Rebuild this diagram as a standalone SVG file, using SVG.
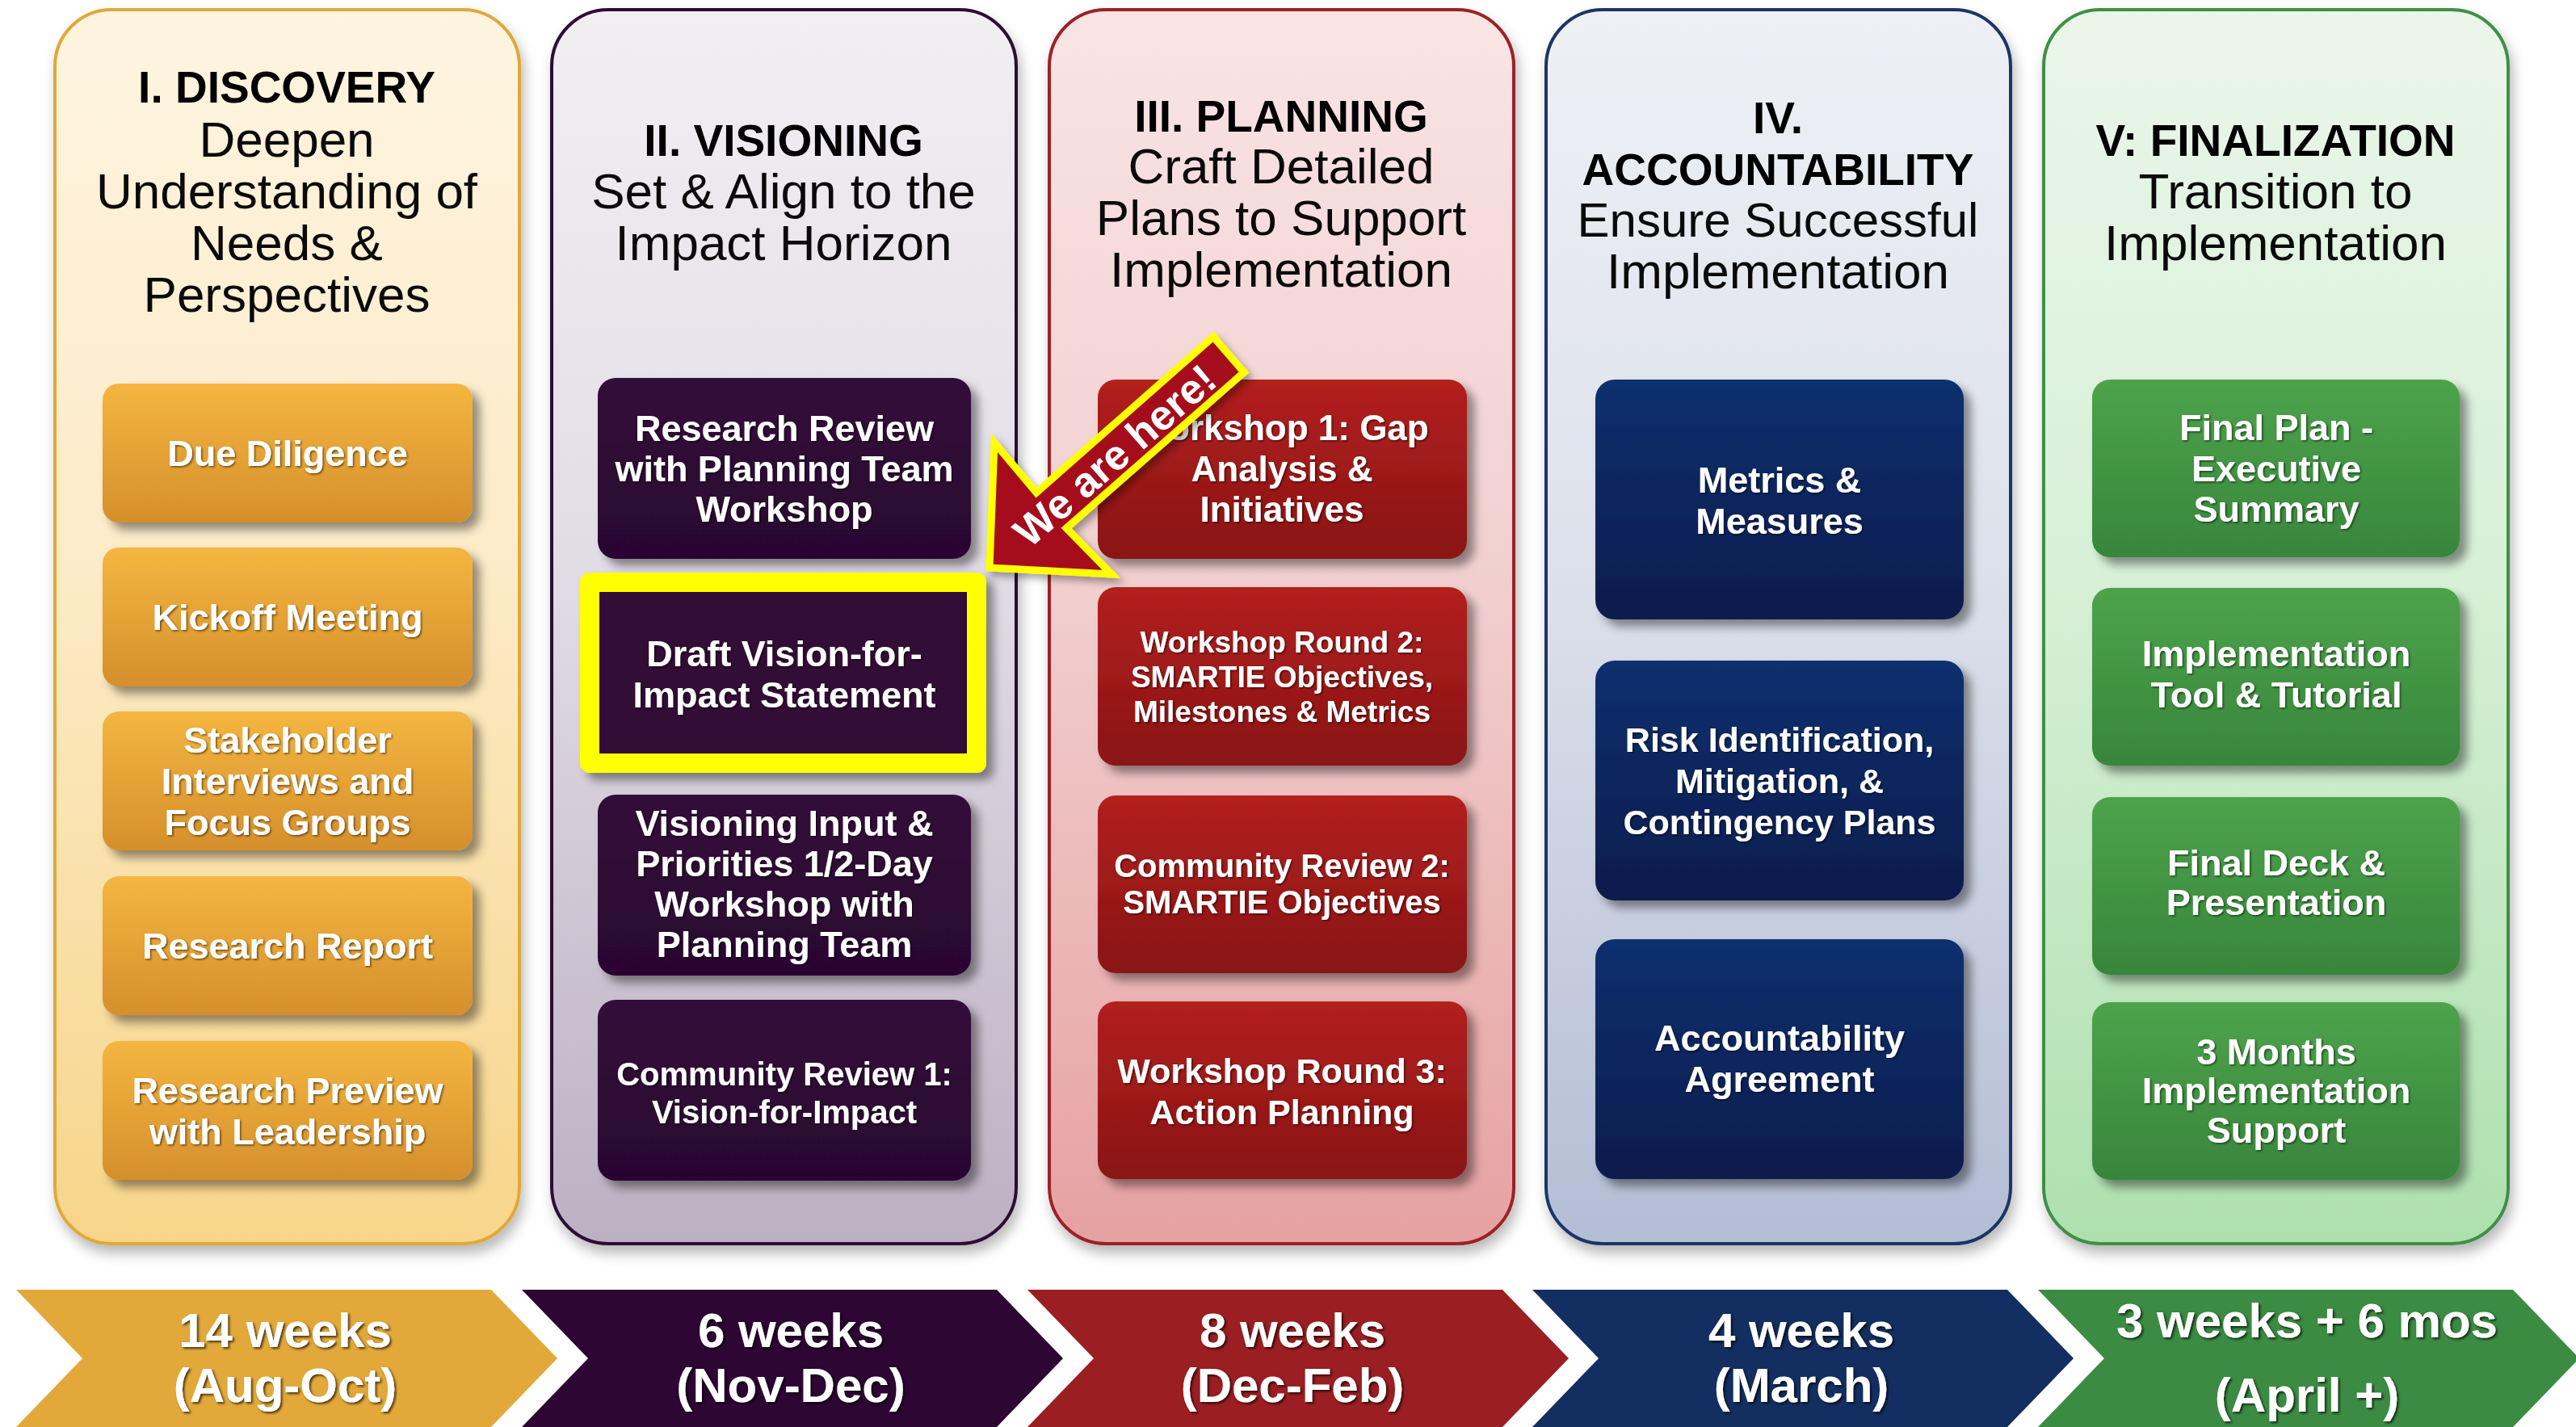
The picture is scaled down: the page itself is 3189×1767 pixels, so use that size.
<svg xmlns="http://www.w3.org/2000/svg" width="3189" height="1767" viewBox="0 0 3189 1767">
<defs>
<style>
.f{font-family:"Liberation Sans",Arial,sans-serif;text-anchor:middle}
.ht{font-weight:700;font-size:55px;fill:#000}
.hs{font-weight:400;font-size:62px;fill:#0a0a0a}
.bt{font-weight:700;font-size:45px;fill:#fff;filter:url(#tsh)}
.ct{font-weight:700;font-size:60px;fill:#fff;filter:url(#tsh2)}
.col{stroke-width:4;filter:url(#csh)}
.box{filter:url(#bsh)}
</style>
<filter id="csh" x="-10%" y="-5%" width="120%" height="112%"><feDropShadow dx="4" dy="10" stdDeviation="8" flood-color="#000" flood-opacity="0.28"/></filter>
<filter id="bsh" x="-10%" y="-10%" width="125%" height="135%"><feDropShadow dx="9" dy="9" stdDeviation="6" flood-color="#000" flood-opacity="0.42"/></filter>
<filter id="tsh" x="-5%" y="-20%" width="110%" height="140%"><feDropShadow dx="1.5" dy="1.5" stdDeviation="1.2" flood-color="#000" flood-opacity="0.55"/></filter>
<filter id="tsh2" x="-5%" y="-20%" width="110%" height="140%"><feDropShadow dx="2" dy="2" stdDeviation="1.5" flood-color="#000" flood-opacity="0.7"/></filter>
<filter id="ash" x="-10%" y="-10%" width="130%" height="130%"><feDropShadow dx="5" dy="6" stdDeviation="5" flood-color="#000" flood-opacity="0.35"/></filter>
<linearGradient id="gI" x1="0" y1="0" x2="0" y2="1"><stop offset="0" stop-color="#FEF4E0"/><stop offset="0.45" stop-color="#FCEBC8"/><stop offset="1" stop-color="#F7D58A"/></linearGradient>
<linearGradient id="gII" x1="0" y1="0" x2="0" y2="1"><stop offset="0" stop-color="#F2EFF3"/><stop offset="0.45" stop-color="#E1DDE5"/><stop offset="1" stop-color="#BCB0C3"/></linearGradient>
<linearGradient id="gIII" x1="0" y1="0" x2="0" y2="1"><stop offset="0" stop-color="#F9E4E4"/><stop offset="0.45" stop-color="#F2D0D0"/><stop offset="1" stop-color="#E6A1A2"/></linearGradient>
<linearGradient id="gIV" x1="0" y1="0" x2="0" y2="1"><stop offset="0" stop-color="#EEF0F5"/><stop offset="0.45" stop-color="#DDE1EB"/><stop offset="1" stop-color="#B3BDD4"/></linearGradient>
<linearGradient id="gV" x1="0" y1="0" x2="0" y2="1"><stop offset="0" stop-color="#EAF6EA"/><stop offset="0.45" stop-color="#D8F0D8"/><stop offset="1" stop-color="#AEE0AE"/></linearGradient>
<linearGradient id="bI" x1="0" y1="0" x2="0" y2="1"><stop offset="0" stop-color="#F4B640"/><stop offset="1" stop-color="#D58F2C"/></linearGradient>
<linearGradient id="bII" x1="0" y1="0" x2="0" y2="1"><stop offset="0" stop-color="#330A3A"/><stop offset="1" stop-color="#2A0630"/></linearGradient>
<linearGradient id="bIII" x1="0" y1="0" x2="0" y2="1"><stop offset="0" stop-color="#B3201F"/><stop offset="1" stop-color="#891414"/></linearGradient>
<linearGradient id="bIV" x1="0" y1="0" x2="0" y2="1"><stop offset="0" stop-color="#10306F"/><stop offset="1" stop-color="#0A1C4C"/></linearGradient>
<linearGradient id="bV" x1="0" y1="0" x2="0" y2="1"><stop offset="0" stop-color="#4DA34B"/><stop offset="1" stop-color="#38863C"/></linearGradient>
</defs>
<rect width="3189" height="1767" fill="#fff"/>

<!-- Columns -->
<g id="phase-1-discovery">
<rect class="col" x="68" y="12" width="575" height="1528" rx="70" fill="url(#gI)" stroke="#E0A838"/>
<text class="f ht" x="355" y="127">I. DISCOVERY</text>
<text class="f hs" x="355" y="194">Deepen</text>
<text class="f hs" x="355" y="258">Understanding of</text>
<text class="f hs" x="355" y="322">Needs &amp;</text>
<text class="f hs" x="355" y="386">Perspectives</text>
</g>
<g id="phase-2-visioning">
<rect class="col" x="683" y="12" width="575" height="1528" rx="70" fill="url(#gII)" stroke="#2E0A35"/>
<text class="f ht" x="970" y="193">II. VISIONING</text>
<text class="f hs" x="970" y="258">Set &amp; Align to the</text>
<text class="f hs" x="970" y="322">Impact Horizon</text>
</g>
<g id="phase-3-planning">
<rect class="col" x="1299" y="12" width="575" height="1528" rx="70" fill="url(#gIII)" stroke="#9B2226"/>
<text class="f ht" x="1586" y="163">III. PLANNING</text>
<text class="f hs" x="1586" y="227">Craft Detailed</text>
<text class="f hs" x="1586" y="291">Plans to Support</text>
<text class="f hs" x="1586" y="355">Implementation</text>
</g>
<g id="phase-4-accountability">
<rect class="col" x="1914" y="12" width="575" height="1528" rx="70" fill="url(#gIV)" stroke="#1B3466"/>
<text class="f ht" x="2201" y="165">IV.</text>
<text class="f ht" x="2201" y="229">ACCOUNTABILITY</text>
<text class="f hs" x="2201" y="293" style="font-size:60px">Ensure Successful</text>
<text class="f hs" x="2201" y="357">Implementation</text>
</g>
<g id="phase-5-finalization">
<rect class="col" x="2530" y="12" width="575" height="1528" rx="70" fill="url(#gV)" stroke="#3F8F46"/>
<text class="f ht" x="2817" y="193">V: FINALIZATION</text>
<text class="f hs" x="2817" y="258">Transition to</text>
<text class="f hs" x="2817" y="322">Implementation</text>
</g>

<!-- Column I boxes -->
<g id="due-diligence"><rect class="box" x="127" y="475" width="458" height="172" rx="20" fill="url(#bI)"/>
<text class="f bt" x="356" y="577">Due Diligence</text></g>
<g id="kickoff-meeting"><rect class="box" x="127" y="678" width="458" height="172" rx="20" fill="url(#bI)"/>
<text class="f bt" x="356" y="780">Kickoff Meeting</text></g>
<g id="stakeholder-interviews"><rect class="box" x="127" y="881" width="458" height="172" rx="20" fill="url(#bI)"/>
<text class="f bt" x="356" y="932">Stakeholder</text>
<text class="f bt" x="356" y="983">Interviews and</text>
<text class="f bt" x="356" y="1034">Focus Groups</text></g>
<g id="research-report"><rect class="box" x="127" y="1085" width="458" height="172" rx="20" fill="url(#bI)"/>
<text class="f bt" x="356" y="1187">Research Report</text></g>
<g id="research-preview"><rect class="box" x="127" y="1289" width="458" height="172" rx="20" fill="url(#bI)"/>
<text class="f bt" x="356" y="1366">Research Preview</text>
<text class="f bt" x="356" y="1417">with Leadership</text></g>

<!-- Column II boxes -->
<g id="research-review"><rect class="box" x="740" y="468" width="462" height="224" rx="22" fill="url(#bII)"/>
<text class="f bt" x="971" y="546">Research Review</text>
<text class="f bt" x="971" y="596">with Planning Team</text>
<text class="f bt" x="971" y="646">Workshop</text></g>
<g id="draft-vision"><rect x="730" y="721" width="479" height="224" fill="#300A35" stroke="#FFFF00" stroke-width="24" stroke-linejoin="round" filter="url(#bsh)"/>
<text class="f bt" x="971" y="825">Draft Vision-for-</text>
<text class="f bt" x="971" y="876">Impact Statement</text></g>
<g id="visioning-input"><rect class="box" x="740" y="984" width="462" height="224" rx="22" fill="url(#bII)"/>
<text class="f bt" x="971" y="1035">Visioning Input &amp;</text>
<text class="f bt" x="971" y="1085">Priorities 1/2-Day</text>
<text class="f bt" x="971" y="1135">Workshop with</text>
<text class="f bt" x="971" y="1185">Planning Team</text></g>
<g id="community-review-1"><rect class="box" x="740" y="1238" width="462" height="224" rx="22" fill="url(#bII)"/>
<text class="f bt" x="971" y="1344" style="font-size:40px">Community Review 1:</text>
<text class="f bt" x="971" y="1391" style="font-size:40px">Vision-for-Impact</text></g>

<!-- Column III boxes -->
<g id="workshop-1"><rect class="box" x="1359" y="470" width="457" height="222" rx="22" fill="url(#bIII)"/>
<text class="f bt" x="1587" y="545" style="font-size:44px">Workshop 1: Gap</text>
<text class="f bt" x="1587" y="596" style="font-size:44px">Analysis &amp;</text>
<text class="f bt" x="1587" y="646" style="font-size:44px">Initiatives</text></g>
<g id="workshop-round-2"><rect class="box" x="1359" y="727" width="457" height="221" rx="22" fill="url(#bIII)"/>
<text class="f bt" x="1587" y="808" style="font-size:37px">Workshop Round 2:</text>
<text class="f bt" x="1587" y="851" style="font-size:37px">SMARTIE Objectives,</text>
<text class="f bt" x="1587" y="894" style="font-size:37px">Milestones &amp; Metrics</text></g>
<g id="community-review-2"><rect class="box" x="1359" y="985" width="457" height="220" rx="22" fill="url(#bIII)"/>
<text class="f bt" x="1587" y="1086" style="font-size:40px">Community Review 2:</text>
<text class="f bt" x="1587" y="1131" style="font-size:40px">SMARTIE Objectives</text></g>
<g id="workshop-round-3"><rect class="box" x="1359" y="1240" width="457" height="220" rx="22" fill="url(#bIII)"/>
<text class="f bt" x="1587" y="1341" style="font-size:43px">Workshop Round 3:</text>
<text class="f bt" x="1587" y="1392" style="font-size:43px">Action Planning</text></g>

<!-- Column IV boxes -->
<g id="metrics-measures"><rect class="box" x="1975" y="470" width="456" height="297" rx="24" fill="url(#bIV)"/>
<text class="f bt" x="2203" y="610">Metrics &amp;</text>
<text class="f bt" x="2203" y="661">Measures</text></g>
<g id="risk-identification"><rect class="box" x="1975" y="818" width="456" height="297" rx="24" fill="url(#bIV)"/>
<text class="f bt" x="2203" y="931" style="font-size:43px">Risk Identification,</text>
<text class="f bt" x="2203" y="982" style="font-size:43px">Mitigation, &amp;</text>
<text class="f bt" x="2203" y="1033" style="font-size:43px">Contingency Plans</text></g>
<g id="accountability-agreement"><rect class="box" x="1975" y="1163" width="456" height="297" rx="24" fill="url(#bIV)"/>
<text class="f bt" x="2203" y="1301">Accountability</text>
<text class="f bt" x="2203" y="1352">Agreement</text></g>

<!-- Column V boxes -->
<g id="final-plan"><rect class="box" x="2590" y="470" width="455" height="220" rx="22" fill="url(#bV)"/>
<text class="f bt" x="2818" y="545">Final Plan -</text>
<text class="f bt" x="2818" y="596">Executive</text>
<text class="f bt" x="2818" y="646">Summary</text></g>
<g id="implementation-tool"><rect class="box" x="2590" y="728" width="455" height="220" rx="22" fill="url(#bV)"/>
<text class="f bt" x="2818" y="825">Implementation</text>
<text class="f bt" x="2818" y="876">Tool &amp; Tutorial</text></g>
<g id="final-deck"><rect class="box" x="2590" y="987" width="455" height="220" rx="22" fill="url(#bV)"/>
<text class="f bt" x="2818" y="1084">Final Deck &amp;</text>
<text class="f bt" x="2818" y="1133">Presentation</text></g>
<g id="implementation-support"><rect class="box" x="2590" y="1241" width="455" height="220" rx="22" fill="url(#bV)"/>
<text class="f bt" x="2818" y="1318">3 Months</text>
<text class="f bt" x="2818" y="1366">Implementation</text>
<text class="f bt" x="2818" y="1415">Support</text></g>

<!-- Timeline chevrons -->
<g id="timeline">
<g id="t1"><polygon points="20,1597 608,1597 690,1682 608,1767 20,1767 102,1682" fill="#E2A83A"/>
<text class="f ct" x="353" y="1668">14 weeks</text><text class="f ct" x="353" y="1736">(Aug-Oct)</text></g>
<g id="t2"><polygon points="646,1597 1234,1597 1316,1682 1234,1767 646,1767 728,1682" fill="#2D0633"/>
<text class="f ct" x="979" y="1668">6 weeks</text><text class="f ct" x="979" y="1736">(Nov-Dec)</text></g>
<g id="t3"><polygon points="1272,1597 1860,1597 1942,1682 1860,1767 1272,1767 1354,1682" fill="#9A1E22"/>
<text class="f ct" x="1600" y="1668">8 weeks</text><text class="f ct" x="1600" y="1736">(Dec-Feb)</text></g>
<g id="t4"><polygon points="1897,1597 2485,1597 2567,1682 2485,1767 1897,1767 1979,1682" fill="#132E60"/>
<text class="f ct" x="2230" y="1668">4 weeks</text><text class="f ct" x="2230" y="1736">(March)</text></g>
<g id="t5"><polygon points="2523,1597 3111,1597 3193,1682 3111,1767 2523,1767 2605,1682" fill="#3B8B43"/>
<text class="f ct" x="2856" y="1656">3 weeks + 6 mos</text><text class="f ct" x="2856" y="1748">(April +)</text></g>
</g>

<!-- Callout arrow -->
<g id="connectors">
<g id="we-are-here" filter="url(#ash)">
<polygon points="1225,703 1231,548 1283,610 1502,417 1540,461 1320,654 1376,711" fill="#A50F1F" stroke="#FFFF00" stroke-width="9" stroke-linejoin="miter"/>
<text class="f" x="0" y="0" transform="translate(1380,564) rotate(-41) translate(0,18)" style="font-weight:700;font-size:52px;fill:#fff">We are here!</text>
</g>
</g>
</svg>
